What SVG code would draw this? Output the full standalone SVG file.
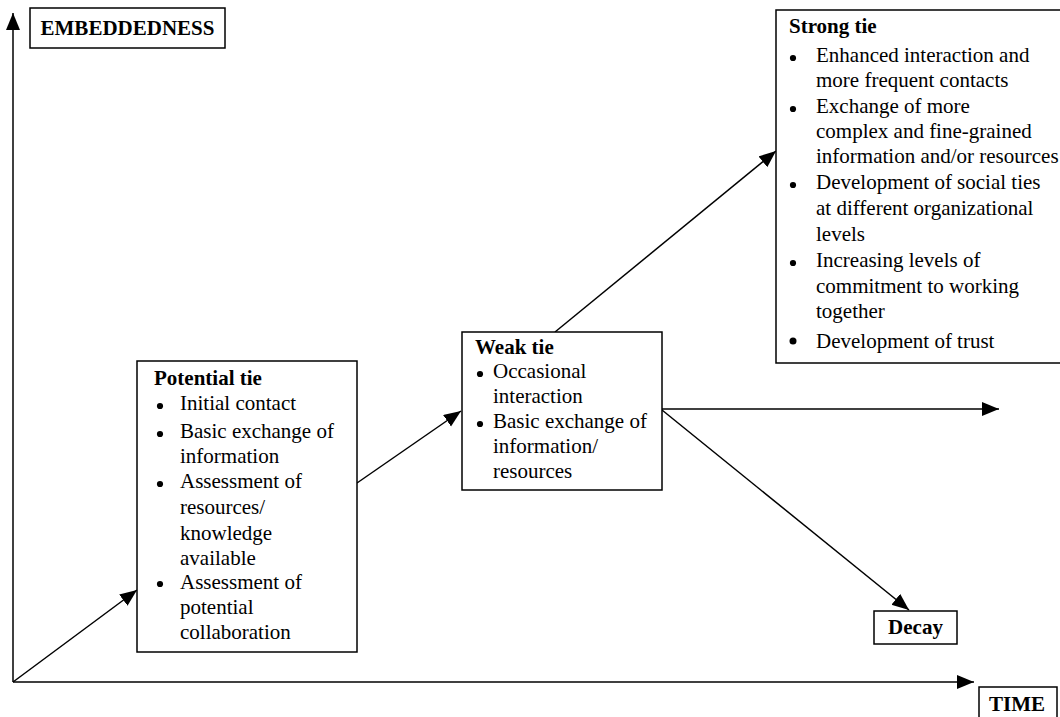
<svg xmlns="http://www.w3.org/2000/svg" width="1060" height="717" viewBox="0 0 1060 717">
<style>
.box{fill:#fff;stroke:#000;stroke-width:1.5}
.t{font-family:"Liberation Serif","Times New Roman",serif;font-size:21px;fill:#000}
.b{font-weight:bold}
.bul{fill:#000}
.ln{stroke:#000;stroke-width:1.5;fill:none}
</style>
<defs>
<marker id="ah" markerUnits="userSpaceOnUse" markerWidth="18" markerHeight="15" refX="17" refY="7" orient="auto">
<path d="M0,0 L17,7 L0,14 Z" fill="#000"/>
</marker>
</defs>
<g id="connectors">
<line class="ln" x1="13" y1="682" x2="13" y2="13" marker-end="url(#ah)"/>
<line class="ln" x1="13" y1="682" x2="974" y2="682" marker-end="url(#ah)"/>
<line class="ln" x1="13" y1="682" x2="137" y2="590" marker-end="url(#ah)"/>
<line class="ln" x1="357" y1="483" x2="461" y2="411" marker-end="url(#ah)"/>
<line class="ln" x1="555" y1="332" x2="776" y2="151" marker-end="url(#ah)"/>
<line class="ln" x1="662" y1="409" x2="999" y2="409" marker-end="url(#ah)"/>
<line class="ln" x1="662" y1="410" x2="909" y2="610" marker-end="url(#ah)"/>
</g>
<g id="embeddedness">
<rect class="box" x="30" y="8" width="195" height="40"/>
<text class="t b" x="127.5" y="35" text-anchor="middle">EMBEDDEDNESS</text>
</g>
<g id="time">
<rect class="box" x="979" y="687" width="78" height="35"/>
<text class="t b" x="1017" y="711" text-anchor="middle">TIME</text>
</g>
<g id="decay">
<rect class="box" x="874" y="611" width="83" height="33"/>
<text class="t b" x="915.5" y="634" text-anchor="middle">Decay</text>
</g>
<g id="potential-tie">
<rect class="box" x="137" y="361" width="220" height="291"/>
<text class="t b" x="154" y="385">Potential tie</text>
<circle class="bul" cx="160" cy="406" r="3.1"/>
<circle class="bul" cx="160" cy="434" r="3.1"/>
<circle class="bul" cx="160" cy="484" r="3.1"/>
<circle class="bul" cx="160" cy="584" r="3.1"/>
<text class="t" x="180" y="410">Initial contact</text>
<text class="t" x="180" y="438">Basic exchange of</text>
<text class="t" x="180" y="463">information</text>
<text class="t" x="180" y="488">Assessment of</text>
<text class="t" x="180" y="514">resources/</text>
<text class="t" x="180" y="540">knowledge</text>
<text class="t" x="180" y="565">available</text>
<text class="t" x="180" y="589">Assessment of</text>
<text class="t" x="180" y="614">potential</text>
<text class="t" x="180" y="639">collaboration</text>
</g>
<g id="weak-tie">
<rect class="box" x="462" y="332" width="200" height="158"/>
<text class="t b" x="475" y="354">Weak tie</text>
<circle class="bul" cx="480" cy="374" r="3.1"/>
<circle class="bul" cx="480" cy="424" r="3.1"/>
<text class="t" x="493" y="378">Occasional</text>
<text class="t" x="493" y="403">interaction</text>
<text class="t" x="493" y="428">Basic exchange of</text>
<text class="t" x="493" y="453">information/</text>
<text class="t" x="493" y="478">resources</text>
</g>
<g id="strong-tie">
<rect class="box" x="776" y="10" width="290" height="353"/>
<text class="t b" x="789" y="33">Strong tie</text>
<circle class="bul" cx="793" cy="58" r="3.1"/>
<circle class="bul" cx="793" cy="109" r="3.1"/>
<circle class="bul" cx="793" cy="185" r="3.1"/>
<circle class="bul" cx="793" cy="263" r="3.1"/>
<circle class="bul" cx="793" cy="341" r="3.5"/>
<text class="t" x="816" y="62">Enhanced interaction and</text>
<text class="t" x="816" y="87">more frequent contacts</text>
<text class="t" x="816" y="113">Exchange of more</text>
<text class="t" x="816" y="138">complex and fine-grained</text>
<text class="t" x="816" y="163">information and/or resources</text>
<text class="t" x="816" y="189">Development of social ties</text>
<text class="t" x="816" y="215">at different organizational</text>
<text class="t" x="816" y="241">levels</text>
<text class="t" x="816" y="267">Increasing levels of</text>
<text class="t" x="816" y="293">commitment to working</text>
<text class="t" x="816" y="318">together</text>
<text class="t" x="816" y="348">Development of trust</text>
</g>
</svg>
